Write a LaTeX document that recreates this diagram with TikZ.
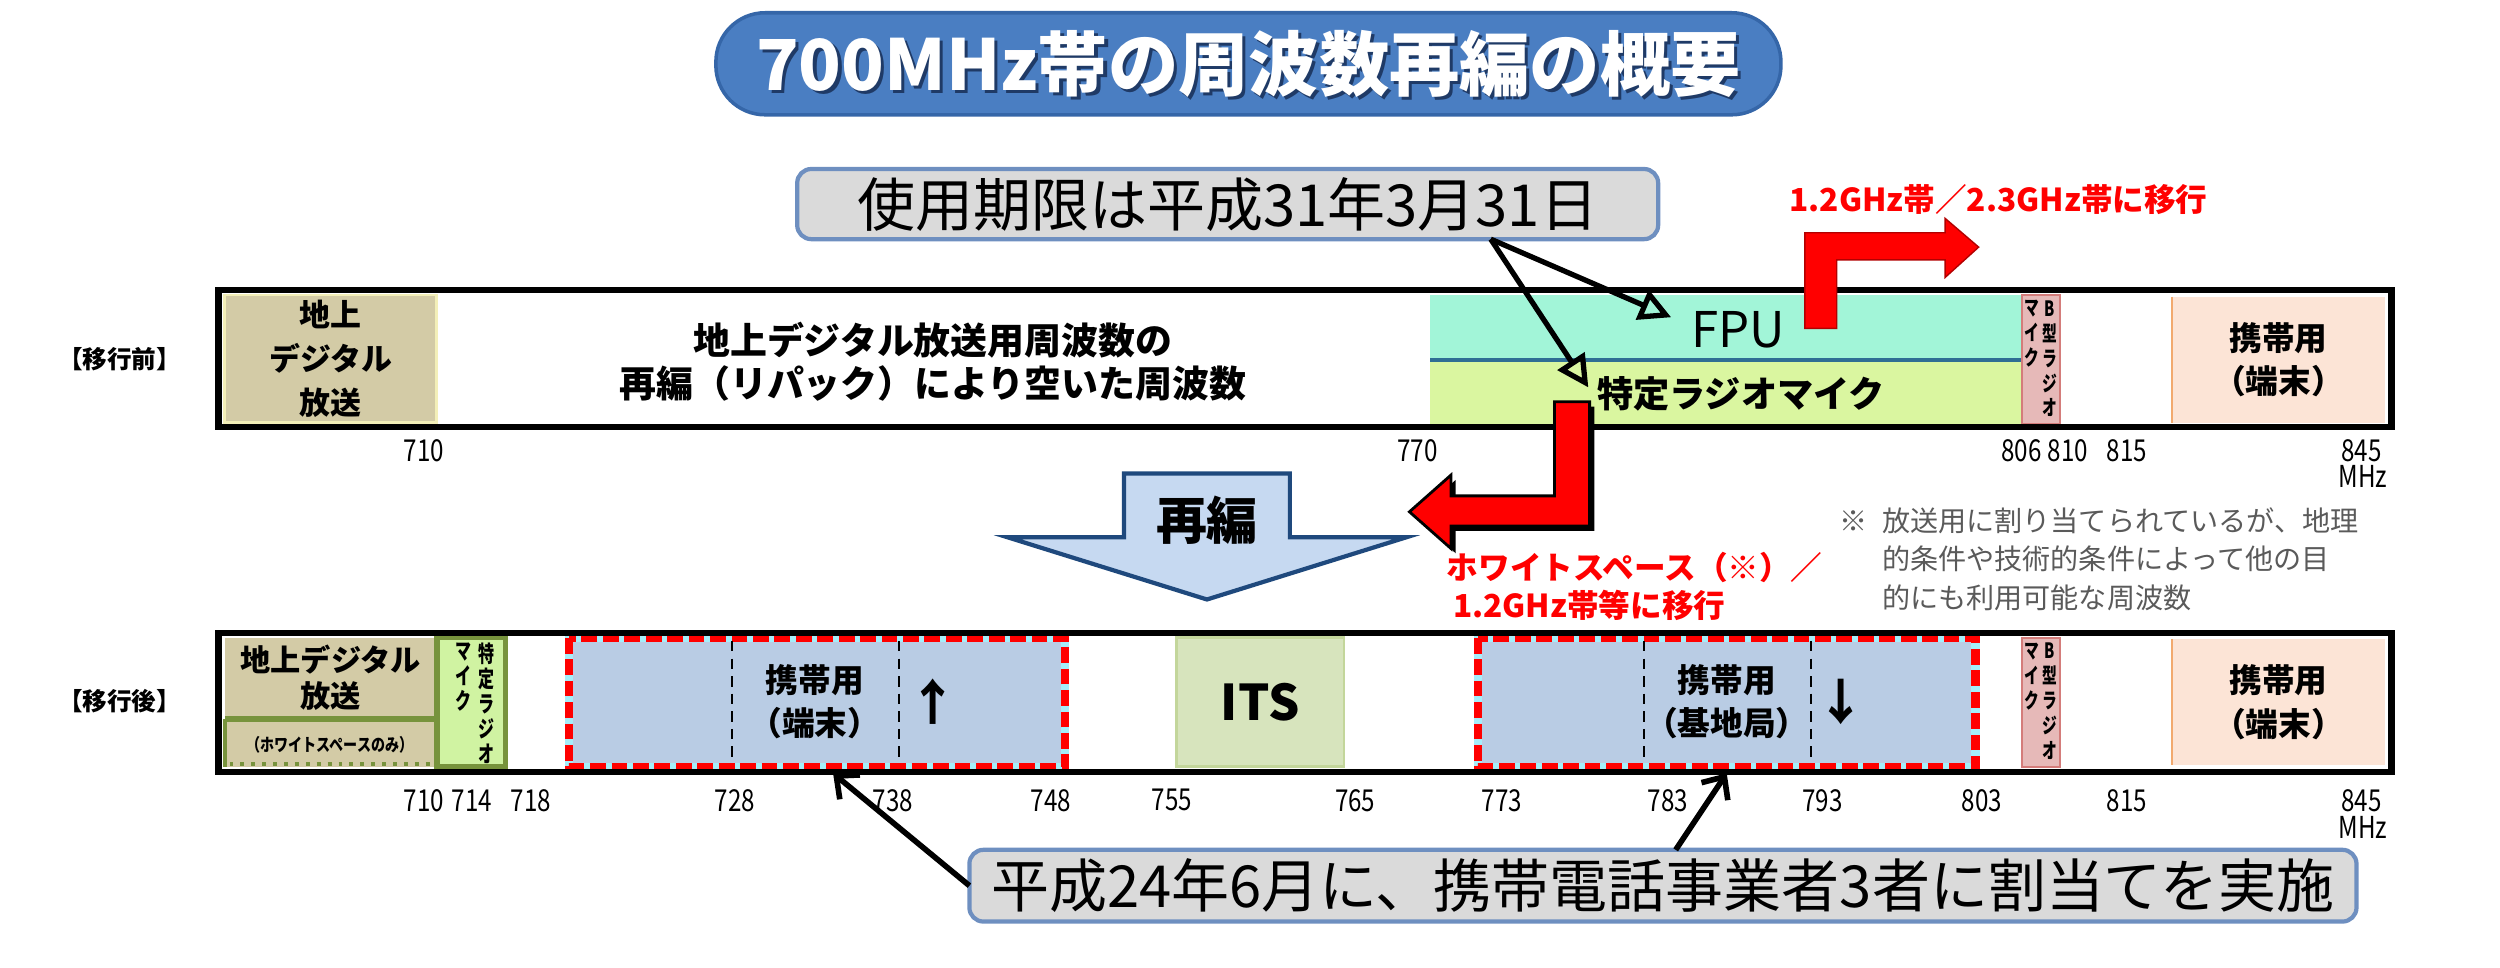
\documentclass[tikz,border=0pt]{standalone}
\usepackage{fontspec}
\setmainfont{Noto Sans CJK JP}
\newfontfamily\narrowfont{Noto Sans CJK JP}[FakeStretch=0.8]
\newfontfamily\vnarrowfont{Noto Sans CJK JP}[FakeStretch=0.7]
\usetikzlibrary{arrows.meta,fit,calc}
\definecolor{ttlblue}{HTML}{4A7EC2}
\definecolor{ttlborder}{HTML}{3566A8}
\definecolor{ttlshadow}{HTML}{1F3A66}
\definecolor{boxgray}{HTML}{DADADA}
\definecolor{boxedge}{HTML}{6E8FC0}
\definecolor{tanc}{HTML}{D3CBA6}
\definecolor{tanedge}{HTML}{F3EFB8}
\definecolor{fpuc}{HTML}{A2F5D8}
\definecolor{sepblue}{HTML}{2F6E94}
\definecolor{micc}{HTML}{DAF6A0}
\definecolor{pinkc}{HTML}{E6B9B8}
\definecolor{pinkedge}{HTML}{D47C7A}
\definecolor{peach}{HTML}{FCE4D6}
\definecolor{orangeedge}{HTML}{F2A96E}
\definecolor{mobblue}{HTML}{B9CCE4}
\definecolor{cyanedge}{HTML}{A5EEFA}
\definecolor{itsc}{HTML}{D7E4BD}
\definecolor{itsedge}{HTML}{C3D69B}
\definecolor{olivec}{HTML}{77933C}
\definecolor{greenc}{HTML}{D0F3A2}
\definecolor{arrblue}{HTML}{C6D9F1}
\definecolor{arredge}{HTML}{1F497D}
\definecolor{notegray}{HTML}{5A5A5A}
\definecolor{redc}{HTML}{FF0000}
\begin{document}
\begin{tikzpicture}[x=0.01594cm,y=-0.01594cm,
  seg/.style={inner sep=0pt, outer sep=0pt},
  lbl/.style={inner sep=0pt, align=center, font=\fontsize{9.3}{12.4}\selectfont\bfseries},
  tick/.style={inner sep=0pt, font=\narrowfont\fontsize{8.6}{9}\selectfont},
  vt/.style={inner sep=0pt, align=center, anchor=north, font=\vnarrowfont\fontsize{6}{7.1}\selectfont\bfseries},
  sidelbl/.style={inner sep=0pt, font=\fontsize{7}{8}\selectfont\bfseries},
  redtxt/.style={inner sep=0pt, text=redc, font=\fontsize{9}{10.9}\selectfont\bfseries, align=left},
  mobbox/.style={seg, fill=mobblue},
  blkarrow/.style={line width=1.5pt, -{Triangle[open,length=9pt,width=9pt]}},
  ptrarrow/.style={line width=1.6pt, -{Straight Barb[length=5pt,width=9pt]}},
  bigbox/.style={seg, rounded corners=4pt, fill=boxgray, draw=boxedge, line width=1.2pt},
  bar/.style={seg, draw=black, line width=1.8pt}]
\useasboundingbox (0,0) rectangle (1568,607);

% ---------- title ----------
\node[seg, fit={(449,8)(1117,72)}, rounded corners=14pt, fill=ttlblue, draw=ttlborder, line width=1pt] (title) {};
\node[inner sep=0pt, text=ttlshadow, font=\fontsize{20}{22}\selectfont\bfseries] at ($(title.center)+(2,2)$) {700MHz帯の周波数再編の概要};
\node[inner sep=0pt, text=white, font=\fontsize{20}{22}\selectfont\bfseries] (titletxt) at (title.center) {700MHz帯の周波数再編の概要};

% ---------- deadline box ----------
\node[bigbox, fit={(500,106)(1040,150)}] (limbox) {};
\node[inner sep=0pt, font=\fontsize{16.5}{18}\selectfont] (limtxt) at (limbox.center) {使用期限は平成31年3月31日};

% ---------- top bar (before) ----------
\node[seg, fit={(141,185)(274,265)}, fill=tanc, draw=tanedge, line width=0.8pt] (dtvA) {};
\node[lbl, font=\fontsize{8.8}{12.6}\selectfont\bfseries] at (dtvA.center) {地上\\デジタル\\放送};
\node[lbl, font=\fontsize{10.5}{12.3}\selectfont\bfseries] (freed) at (585,227) {地上デジタル放送用周波数の\\再編（リパック）により空いた周波数};
\node[seg, fit={(897,185)(1268,226)}, fill=fpuc] (fpuband) {};
\node[seg, fit={(897,227)(1268,266)}, fill=micc] (micband) {};
\draw[sepblue, line width=1.2pt] (fpuband.south west) -- (fpuband.south east);
\node[inner sep=0pt, font=\fontsize{14}{15}\selectfont] (fpu) at (1090,207) {FPU};
\node[inner sep=0pt, font=\fontsize{10.3}{11}\selectfont\bfseries] (tok) at (1092,247) {特定ラジオマイク};
\node[seg, fit={(1268,185)(1292,266)}, fill=pinkc, draw=pinkedge, line width=0.6pt] (bmicA) {};
\node[vt] at (1285.5,188) {B\\型\\ラ\\ジ\\オ};
\node[vt] at (1274.5,188) {マ\\イ\\ク};
\node[seg, fit={(1362,186)(1496,265)}, fill=peach] (termA) {};
\draw[orangeedge, line width=0.6pt] (termA.north west) -- (termA.south west);
\node[lbl] at (termA.center) {携帯用\\（端末）};
\node[bar, fit={(137,182)(1500,268)}] (topbar) {};
\node[sidelbl] (before) at (75,225) {【移行前】};

\foreach \v/\px in {710/266,770/889,806/1268,810/1297,815/1334,845/1481}
  \node[tick] at (\px,283) {\v};
\node[tick] at (1482,299) {MHz};

% ---------- arrows from deadline box ----------
\coordinate (limfoot) at ($(limbox.south)+(165,0)$);
\draw[blkarrow] (limfoot) -- ($(fpu.west)+(-12,-8)$);
\draw[blkarrow] (limfoot) -- ($(tok.west)+(-5,-4)$);

% ---------- red arrows ----------
\filldraw[fill=redc, draw=redc!70!black, line width=0.4pt]
  (1132,206) -- (1132,146) -- (1220,146) -- (1220,137) -- (1241,155) -- (1220,174) -- (1220,163) -- (1152,163) -- (1152,206) -- cycle;
\node[redtxt, anchor=west] (toGHz) at (1122,125) {1.2GHz帯／2.3GHz帯に移行};

\fill[black] (978,255) -- (1000,255) -- (1000,333) -- (913,333) -- (913,347) -- (887,324) -- (913,301) -- (913,314) -- (978,314) -- cycle;
\filldraw[fill=redc, draw=black, line width=0.8pt]
  (975,252) -- (997,252) -- (997,330) -- (910,330) -- (910,344) -- (884,321) -- (910,298) -- (910,311) -- (975,311) -- cycle;
\node[redtxt, anchor=north west] (toWS) at (907,346) {ホワイトスペース（※）／\\\hspace*{0.2em}1.2GHz帯等に移行};

% ---------- note ----------
\node[inner sep=0pt, text=notegray, font=\fontsize{8}{10.9}\selectfont, anchor=west] (notemark) at (1153,327) {※};
\node[inner sep=0pt, text=notegray, font=\fontsize{8}{10.9}\selectfont, anchor=north west, align=left] (note) at (1180,318) {放送用に割り当てられているが、地理\\的条件や技術的条件によって他の目\\的にも利用可能な周波数};

% ---------- reorganisation arrow ----------
\filldraw[fill=arrblue, draw=arredge, line width=1.2pt, line join=miter]
  (705,297) -- (809,297) -- (809,337) -- (882,337) -- (757,376) -- (632,337) -- (705,337) -- cycle;
\node[inner sep=0pt, font=\fontsize{14.5}{16}\selectfont\bfseries] (reorg) at (757,326) {再編};

% ---------- bottom bar (after) ----------
\node[seg, fit={(141,400)(274,450)}, fill=tanc] (dtvB) {};
\node[lbl, font=\fontsize{8.6}{10.4}\selectfont\bfseries] at (dtvB.center) {地上デジタル\\放送};
\node[seg, fit={(141,451)(274,481)}, fill=tanc] (wsband) {};
\node[inner sep=0pt, font=\narrowfont\fontsize{5}{5}\selectfont\bfseries] at (207,467) {（ホワイトスペースのみ）};
\draw[olivec, line width=1.1pt, dotted] (144,479) -- (272,479);
\draw[olivec, line width=1.6pt] (141,451) -- (274,451);
\draw[olivec, line width=1.2pt] (141,451) -- (141,481);
\node[seg, fit={(274,400)(317,481)}, fill=greenc, draw=olivec, line width=1.5pt] (micB) {};
\node[vt, font=\vnarrowfont\fontsize{6.5}{7.1}\selectfont\bfseries] at (305,403) {特\\定\\ラ\\ジ\\オ};
\node[vt, font=\vnarrowfont\fontsize{6.5}{7.1}\selectfont\bfseries] at (291,403) {マ\\イ\\ク};

\node[mobbox, fit={(357,400)(668,481)}] (mob1) {};
\draw[cyanedge, line width=2.3pt] (mob1.north west) rectangle (mob1.south east);
\draw[redc, line width=2.3pt, dash pattern=on 4.5pt off 1.6pt] (mob1.north west) rectangle (mob1.south east);
\draw[densely dashed, line width=0.5pt] (459,402) -- (459,479);
\draw[densely dashed, line width=0.5pt] (564,402) -- (564,479);
\node[lbl] (mob1t) at (511,440) {携帯用\\（端末）};
\node[inner sep=0pt, font=\fontsize{14}{15}\selectfont\bfseries] at (585,440) {↑};

\node[seg, fit={(738,400)(843,481)}, fill=itsc, draw=itsedge, line width=0.8pt] (its) {};
\node[inner sep=0pt, font=\fontsize{14}{15}\selectfont\bfseries] at (its.center) {ITS};

\node[mobbox, fit={(927,400)(1239,481)}] (mob2) {};
\draw[cyanedge, line width=2.3pt] (mob2.north west) rectangle (mob2.south east);
\draw[redc, line width=2.3pt, dash pattern=on 4.5pt off 1.6pt] (mob2.north west) rectangle (mob2.south east);
\draw[densely dashed, line width=0.5pt] (1031,402) -- (1031,479);
\draw[densely dashed, line width=0.5pt] (1136,402) -- (1136,479);
\node[lbl] (mob2t) at (1083,440) {携帯用\\（基地局）};
\node[inner sep=0pt, font=\fontsize{14}{15}\selectfont\bfseries] at (1155,440) {↓};

\node[seg, fit={(1268,400)(1292,481)}, fill=pinkc, draw=pinkedge, line width=0.6pt] (bmicB) {};
\node[vt] at (1285.5,403) {B\\型\\ラ\\ジ\\オ};
\node[vt] at (1274.5,403) {マ\\イ\\ク};
\node[seg, fit={(1362,401)(1496,480)}, fill=peach] (termB) {};
\draw[orangeedge, line width=0.6pt] (termB.north west) -- (termB.south west);
\node[lbl] at (termB.center) {携帯用\\（端末）};

\node[bar, fit={(137,397)(1500,484)}] (botbar) {};
\node[sidelbl] (after) at (75,440) {【移行後】};

\foreach \v/\px in {710/266,714/296,718/333,728/461,738/560,748/659,755/735,765/850,773/942,783/1046,793/1143,803/1243,815/1334,845/1481}
  \node[tick] at (\px,502) {\v};
\node[tick] at (1482,519) {MHz};

% ---------- allocation box ----------
\node[bigbox, fit={(608,533)(1478,578)}] (alloc) {};
\node[inner sep=0pt, font=\fontsize{16.5}{18}\selectfont] (alloctxt) at (alloc.center) {平成24年6月に、携帯電話事業者3者に割当てを実施};
\draw[ptrarrow] (alloc.west) -- ($(mob1.south)+(10,4)$);
\draw[ptrarrow] ($(alloc.north)+(8,0)$) -- ($(mob2.south)+(0,4)$);
\end{tikzpicture}
\end{document}
